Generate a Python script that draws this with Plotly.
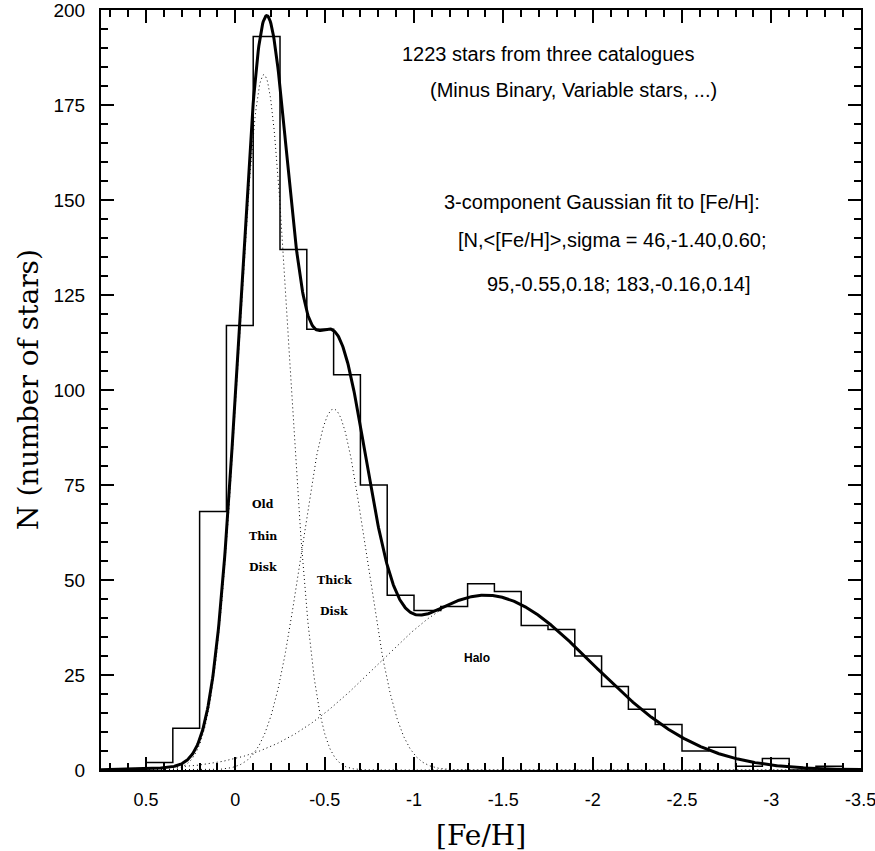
import numpy as np
import plotly.graph_objects as go

# ---- data ----
bin_edges = [0.5, 0.35, 0.2, 0.05, -0.1, -0.25, -0.4, -0.55, -0.7, -0.85, -1.0,
             -1.15, -1.3, -1.45, -1.6, -1.75, -1.9, -2.05, -2.2, -2.35, -2.5,
             -2.65, -2.8, -2.95, -3.1, -3.25, -3.4]
bin_counts = [2, 11, 68, 117, 193, 137, 116, 104, 75, 46, 42, 43, 49, 47, 38,
              37, 30, 22, 16, 12, 5, 6, 1, 3, 0, 1]

# 3-component Gaussian fit parameters (peak N, mean [Fe/H], sigma), as printed on the chart
comp_names = ["Halo", "Thick Disk", "Old Thin Disk"]
comp_N = [46, 95, 183]
comp_mu = [-1.40, -0.55, -0.16]
comp_sigma = [0.60, 0.18, 0.14]

x_tickvals = [0.5, 0, -0.5, -1, -1.5, -2, -2.5, -3, -3.5]
x_ticktext = ["0.5", "0", "-0.5", "-1", "-1.5", "-2", "-2.5", "-3", "-3.5"]
y_tickvals = [0, 25, 50, 75, 100, 125, 150, 175, 200]
y_ticktext = ["0", "25", "50", "75", "100", "125", "150", "175", "200"]

x_range = [0.752, -3.502]
y_range = [0, 200]

# ---- build figure ----
fig = go.Figure()

# histogram outline (step)
hx = [bin_edges[0]] + bin_edges
hy = [0] + bin_counts + [0]
fig.add_trace(go.Scatter(x=hx, y=hy, mode="lines", line_shape="hv",
                         line=dict(color="black", width=1.5), showlegend=False,
                         hoverinfo="skip"))

xs = np.linspace(x_range[0], x_range[1], 1200)
total = np.zeros_like(xs)
for n, mu, sg in zip(comp_N, comp_mu, comp_sigma):
    g = n * np.exp(-0.5 * ((xs - mu) / sg) ** 2)
    total += g
    fig.add_trace(go.Scatter(x=xs, y=g, mode="lines",
                             line=dict(color="black", width=1, dash="1px,3px"),
                             showlegend=False, hoverinfo="skip"))

fig.add_trace(go.Scatter(x=xs, y=total, mode="lines",
                         line=dict(color="black", width=3), showlegend=False,
                         hoverinfo="skip"))

# component labels
serif_lbl = dict(family="DejaVu Serif", size=11, color="black", weight="bold")
for txt, xx, yy in [("Old", -0.152, 69.9), ("Thin", -0.152, 61.5), ("Disk", -0.152, 53.4),
                    ("Thick", -0.553, 49.9), ("Disk", -0.553, 41.8)]:
    fig.add_annotation(x=xx, y=yy, text=txt, showarrow=False, font=serif_lbl)
fig.add_annotation(x=-1.354, y=29.6, text="Halo", showarrow=False,
                   font=dict(family="Liberation Sans", size=12, color="black", weight="bold"))

# top-right info text
info_font = dict(family="Liberation Sans, Arial", size=20, color="black")
info = [("1223 stars from three catalogues", -1.75, 188.5),
        ("(Minus Binary, Variable stars, ...)", -1.89, 179.0),
        ("3-component Gaussian fit to [Fe/H]:", -2.05, 149.5),
        ("[N,<[Fe/H]>,sigma = 46,-1.40,0.60;", -2.11, 139.5),
        ("95,-0.55,0.18; 183,-0.16,0.14]", -2.15, 128.0)]
for txt, xx, yy in info:
    fig.add_annotation(x=xx, y=yy, text=txt.replace("<", "&lt;").replace(">", "&gt;"),
                       showarrow=False, font=info_font)

# axis titles
title_font = dict(family="DejaVu Serif", size=28, color="black")
fig.add_annotation(x=0.5, y=0, xref="paper", yref="paper", yshift=-65, yanchor="middle",
                   text="[Fe/H]", showarrow=False, font=title_font)
fig.add_annotation(x=0, y=0.5, xref="paper", yref="paper", xshift=-73, xanchor="center",
                   textangle=-90, text="N (number of stars)", showarrow=False, font=title_font)

axis_common = dict(showgrid=False, zeroline=False, showline=True, linecolor="black",
                   linewidth=2, mirror="allticks", ticks="inside", ticklen=13,
                   tickwidth=1.5, tickcolor="black", automargin=False,
                   ticklabeloverflow="allow")

fig.update_xaxes(range=x_range, tickmode="array", tickvals=x_tickvals, ticktext=x_ticktext,
                 minor=dict(ticks="inside", ticklen=7, tickwidth=1.5, tickcolor="black",
                            tickmode="linear", tick0=0, dtick=0.1),
                 tickfont=dict(family="Liberation Sans, Arial", size=18, color="black"),
                 ticklabelstandoff=12, **axis_common)
fig.update_yaxes(range=y_range, tickmode="array", tickvals=y_tickvals, ticktext=y_ticktext,
                 minor=dict(ticks="inside", ticklen=7, tickwidth=1.5, tickcolor="black",
                            tickmode="linear", tick0=0, dtick=5),
                 tickfont=dict(family="Liberation Sans, Arial", size=19, color="black"),
                 ticklabelstandoff=10, **axis_common)

fig.update_layout(width=875, height=851, plot_bgcolor="white", paper_bgcolor="white",
                  margin=dict(l=101, r=14, t=10, b=81), showlegend=False)

fig.write_html("out.html", config={"displayModeBar": False},
               post_script="document.body.style.margin='0';document.body.style.padding='0';"
                           "document.body.style.overflow='hidden';")
